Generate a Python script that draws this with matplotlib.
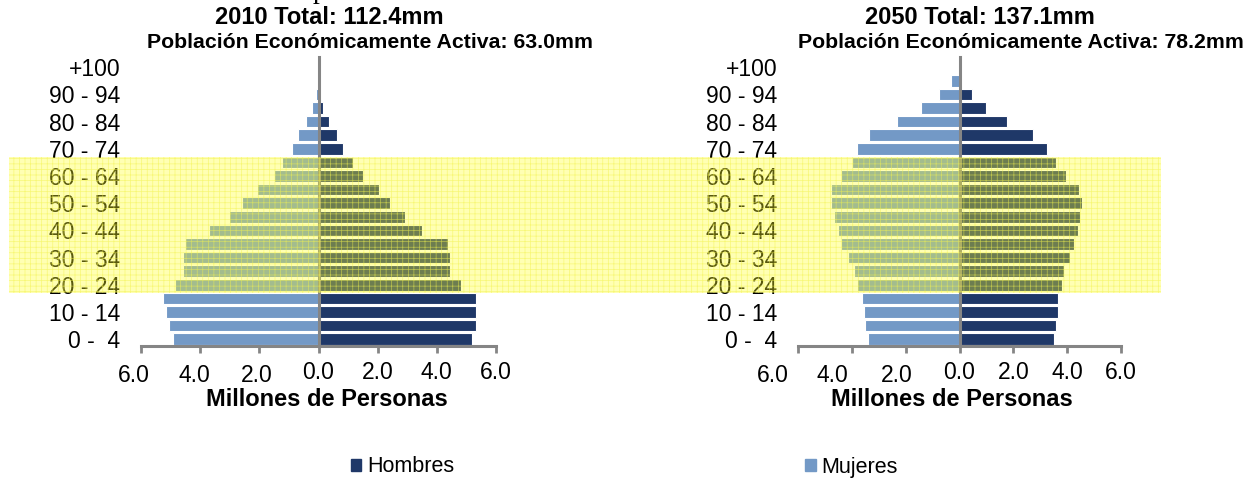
import matplotlib
matplotlib.use('Agg')
import numpy as np
import matplotlib.pyplot as plt
from matplotlib.patches import Rectangle, Patch
from matplotlib.transforms import ScaledTranslation

plt.rcParams['font.family'] = ['Liberation Sans', 'DejaVu Sans']
plt.rcParams['hatch.linewidth'] = 0.5

# grupos de edad (de abajo hacia arriba)
grupos = ['0 -  4', '5 - 9', '10 - 14', '15 - 19', '20 - 24', '25 - 29', '30 - 34',
          '35 - 39', '40 - 44', '45 - 49', '50 - 54', '55 - 59', '60 - 64', '65 - 69',
          '70 - 74', '75 - 79', '80 - 84', '85 - 89', '90 - 94', '95 - 99', '+100']

# millones de personas
mujeres_2010 = [4.93, 5.06, 5.14, 5.27, 4.85, 4.59, 4.57, 4.52, 3.71, 3.03, 2.58,
                2.09, 1.51, 1.23, 0.89, 0.69, 0.43, 0.22, 0.08, 0.02, 0.005]
hombres_2010 = [5.20, 5.34, 5.34, 5.33, 4.80, 4.46, 4.46, 4.39, 3.51, 2.92, 2.42,
                2.04, 1.49, 1.15, 0.83, 0.62, 0.35, 0.16, 0.05, 0.01, 0.005]
mujeres_2050 = [3.41, 3.50, 3.56, 3.64, 3.79, 3.91, 4.16, 4.39, 4.53, 4.67, 4.77,
                4.77, 4.40, 4.01, 3.80, 3.35, 2.31, 1.43, 0.76, 0.32, 0.02]
hombres_2050 = [3.50, 3.59, 3.66, 3.66, 3.79, 3.88, 4.09, 4.24, 4.39, 4.46, 4.54,
                4.45, 3.95, 3.58, 3.26, 2.74, 1.78, 0.97, 0.45, 0.06, 0.01]

titulos = ['2010 Total: 112.4mm', '2050 Total: 137.1mm']
subtitulos = ['Población Económicamente Activa: 63.0mm',
              'Población Económicamente Activa: 78.2mm']
xticks = [-6, -4, -2, 0, 2, 4, 6]

azul_claro = '#7399C6'
azul_oscuro = '#1F3868'
gris = '#858585'

W, H = 1255, 479
fig = plt.figure(figsize=(12.55, 4.79), dpi=100)


def caja(x0, y0, x1, y1):
    return [x0 / W, 1 - y1 / H, (x1 - x0) / W, (y1 - y0) / H]


ax1 = fig.add_axes(caja(141, 60.4, 496, 346))
ax2 = fig.add_axes(caja(798, 60.4, 1121, 346))


def piramide(ax, muj, hom, desplaz):
    y = np.arange(len(grupos))
    ax.barh(y, -np.array(muj), height=0.85, color=azul_claro, edgecolor='white', lw=0.8)
    ax.barh(y, hom, height=0.85, color=azul_oscuro, edgecolor='white', lw=0.8)
    ax.axvline(0, ymin=0, ymax=1.012, color=gris, lw=2.2, clip_on=False, zorder=3)
    ax.set_xlim(-6, 6)
    ax.set_ylim(-0.5, 20.5)
    ax.set_yticks(y[::2])
    ax.set_yticklabels(grupos[::2], fontsize=16.5)
    ax.tick_params(axis='y', length=0, pad=15)
    ax.set_xticks(xticks)
    ax.set_xticklabels(['%.1f' % abs(v) for v in xticks], fontsize=16.5)
    ax.tick_params(axis='x', length=5, width=2, color=gris, pad=5.5)
    for s in ['left', 'right', 'top']:
        ax.spines[s].set_visible(False)
    ax.spines['bottom'].set_color(gris)
    ax.spines['bottom'].set_linewidth(2.2)
    for lbl, v in zip(ax.get_xticklabels(), xticks):
        if v < 0:
            lbl.set_transform(lbl.get_transform() +
                              ScaledTranslation(desplaz[v] / 100, -3 / 100, fig.dpi_scale_trans))


piramide(ax1, mujeres_2010, hombres_2010, {-6: -7, -4: -6, -2: -3})
piramide(ax2, mujeres_2050, hombres_2050, {-6: -25, -4: -19, -2: -9})

# titulos y etiquetas
fig.text(329 / W, 1 - 18 / H, titulos[0], ha='center', va='center', fontsize=17, fontweight='bold')
fig.text(370 / W, 1 - 43 / H, subtitulos[0], ha='center', va='center', fontsize=15.3, fontweight='bold')
fig.text(980 / W, 1 - 18 / H, titulos[1], ha='center', va='center', fontsize=17, fontweight='bold')
fig.text(1021 / W, 1 - 43 / H, subtitulos[1], ha='center', va='center', fontsize=15.3, fontweight='bold')
fig.text(327 / W, 1 - 400 / H, 'Millones de Personas', ha='center', va='center', fontsize=17, fontweight='bold')
fig.text(952 / W, 1 - 400 / H, 'Millones de Personas', ha='center', va='center', fontsize=17, fontweight='bold')
# resto del titulo general, cortado arriba
fig.text(320 / W, 1 + 2 / H, 'p', ha='center', va='baseline', fontsize=20, family='Liberation Serif')

# banda de poblacion economicamente activa
banda = Rectangle((9 / W, 1 - 292.7 / H), (1161 - 9) / W, (292.7 - 156.7) / H,
                  transform=fig.transFigure, facecolor=(1, 1, 0.15, 0.35),
                  edgecolor=(0.95, 0.95, 0.3, 0.6), hatch='+++', lw=0, zorder=5)
fig.add_artist(banda)

fig.legend(handles=[Patch(color=azul_oscuro), Patch(color=azul_claro)],
           labels=['Hombres', 'Mujeres'], ncol=2, loc='center',
           bbox_to_anchor=(624 / W, 1 - 467 / H), frameon=False, fontsize=15.5,
           handlelength=0.5, handleheight=0.5, handletextpad=0.25, columnspacing=16.3)

fig.savefig('out.png', dpi=100)
